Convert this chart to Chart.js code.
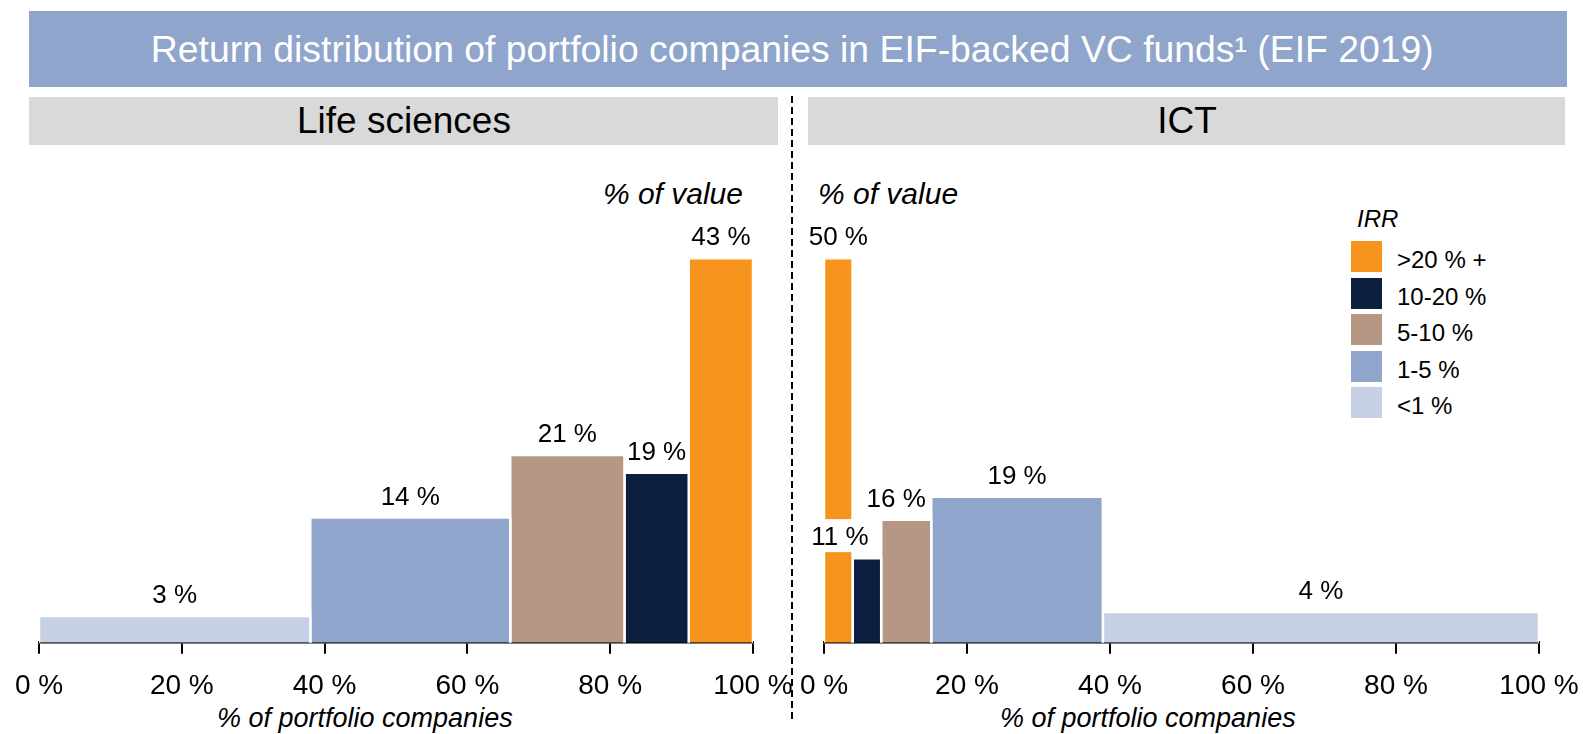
<!DOCTYPE html>
<html>
<head>
<meta charset="utf-8">
<script src="https://cdn.jsdelivr.net/npm/chart.js@4"></script>
<style>
  html, body { margin:0; padding:0; background:#fff; }
  body { width:1583px; height:734px; position:relative; overflow:hidden; font-family:'Liberation Sans', Arial, sans-serif; }
  .abs { position:absolute; white-space:nowrap; }
  #titleBar { left:29px; top:11px; width:1538px; height:76px; background:#8FA5CB; }
  #titleText { top:12px; height:76px; line-height:76px; font-size:36px; color:#fff; transform-origin:center center; }
  .panelBar { top:97px; height:48px; background:#D9D9D9; }
  .panelText { top:97px; height:48px; line-height:48px; font-size:37px; color:#000; }
  .valTitle { top:179px; line-height:30px; font-size:30px; font-style:italic; color:#000; }
  .axTitle { top:705px; line-height:27px; font-size:27px; font-style:italic; color:#000; }
  #divider { left:791px; top:96px; width:1.5px; height:626px;
    background:repeating-linear-gradient(to bottom, #000 0 7px, transparent 7px 11px); }
  canvas { position:absolute; }
  #legend { left:1351px; top:241px; }
  .lgItem { position:absolute; left:0; height:31px; }
  .lgSw { position:absolute; left:0; top:0; width:31px; height:31px; }
  .lgTx { position:absolute; left:46px; top:0; line-height:31px; font-size:24px; color:#000; white-space:nowrap; padding-top:3px; }
  #irr { left:1357px; top:207px; line-height:24px; font-size:24px; font-style:italic; color:#000; }
</style>
</head>
<body>
<div id="titleBar" class="abs"></div>
<span id="titleText" class="abs">Return distribution of portfolio companies in EIF-backed VC funds¹ (EIF 2019)</span>
<div class="abs panelBar" style="left:29px;width:749px;"></div>
<div class="abs panelBar" style="left:808px;width:757px;"></div>
<span id="lsHead" class="abs panelText">Life sciences</span>
<span id="ictHead" class="abs panelText">ICT</span>
<div id="divider" class="abs"></div>
<span id="lsVal" class="abs valTitle">% of value</span>
<span id="ictVal" class="abs valTitle" style="left:818px;">% of value</span>
<span id="lsAx" class="abs axTitle" style="left:217px;">% of portfolio companies</span>
<span id="ictAx" class="abs axTitle" style="left:1000px;">% of portfolio companies</span>
<span id="irr" class="abs">IRR</span>
<div id="legend" class="abs"></div>
<canvas id="lsChart" width="800" height="584" style="left:0;top:150px;"></canvas>
<canvas id="ictChart" width="803" height="584" style="left:780px;top:150px;"></canvas>
<script>
// ---------- DATA ----------
const irrBands = ['>20 % +', '10-20 %', '5-10 %', '1-5 %', '<1 %'];
// Life sciences, left to right on the axis
const lsBands = ['<1 %', '1-5 %', '5-10 %', '10-20 %', '>20 % +'];
const lsCompanies = [38, 28, 16, 9, 9];      // % of portfolio companies (bar widths)
const lsValue = [3, 14, 21, 19, 43];         // % of value (bar heights)
// ICT, left to right on the axis
const ictBands = ['>20 % +', '10-20 %', '5-10 %', '1-5 %', '<1 %'];
const ictCompanies = [4, 4, 7, 24, 61];
const ictValue = [50, 11, 16, 19, 4];
const xTickValues = [0, 20, 40, 60, 80, 100];

// ---------- STYLE ----------
const bandColors = {
  '>20 % +': '#F7941D',
  '10-20 %': '#0C1F40',
  '5-10 %': '#B59783',
  '1-5 %': '#8FA5CB',
  '<1 %': '#C5D0E4'
};
const FONT = "'Liberation Sans', Arial, sans-serif";

// condensed tick font if available
const probe = document.createElement('canvas').getContext('2d');
probe.font = "40px 'Liberation Sans Narrow', monospace";
const wN = probe.measureText('100 % abc').width;
probe.font = '40px monospace';
const wM = probe.measureText('100 % abc').width;
const hasNarrow = Math.abs(wN - wM) > 1;
const tickFont = hasNarrow ? { family: "'Liberation Sans Narrow', 'Liberation Sans', Arial", size: 34 }
                           : { family: FONT, size: 28 };
const tickPad = hasNarrow ? 15 : 16;

function buildDatasets(bands, companies, values) {
  let x = 0;
  return bands.map((b, i) => {
    const x0 = x, x1 = x + companies[i];
    x = x1;
    return {
      label: b,
      data: [{x: x0, y: 0}, {x: x0, y: values[i]}, {x: x1, y: values[i]}, {x: x1, y: 0}],
      backgroundColor: bandColors[b],
      borderColor: '#ffffff',
      borderWidth: 2.5,
      pointRadius: 0,
      pointHoverRadius: 0,
      tension: 0,
      fill: 'origin',
      _mid: (x0 + x1) / 2,
      _val: values[i]
    };
  });
}

const valueLabels = {
  id: 'valueLabels',
  afterDatasetsDraw(chart, args, opts) {
    const ctx = chart.ctx, xs = chart.scales.x, ys = chart.scales.y;
    ctx.save();
    ctx.font = '26px ' + FONT;
    ctx.textAlign = 'center';
    ctx.textBaseline = 'alphabetic';
    chart.data.datasets.forEach((ds, i) => {
      const adj = (opts.adjust || {})[i] || {};
      const cx = xs.getPixelForValue(ds._mid) + (adj.dx || 0);
      const y = ys.getPixelForValue(ds._val) - 13;
      const txt = ds._val + ' %';
      if (adj.bg) {
        const w = ctx.measureText(txt).width;
        ctx.fillStyle = adj.bg;
        ctx.fillRect(cx - w / 2 - 4, y - 26, w + 8, 33);
      }
      ctx.fillStyle = '#000';
      ctx.fillText(txt, cx, y);
    });
    ctx.restore();
  }
};

function makeChart(id, bands, companies, values, pad, adjust) {
  const maxV = Math.max(...values);
  return new Chart(document.getElementById(id), {
    type: 'line',
    data: { datasets: buildDatasets(bands, companies, values) },
    options: {
      responsive: false,
      animation: false,
      events: [],
      layout: { padding: pad },
      plugins: { legend: { display: false }, tooltip: { enabled: false }, valueLabels: { adjust } },
      scales: {
        x: {
          type: 'linear', min: 0, max: 100, z: 1,
          afterBuildTicks: (s) => { s.ticks = xTickValues.map(v => ({value: v})); },
          afterFit: (s) => { s.height = 91.3; s.paddingLeft = 0; s.paddingRight = 0; },
          border: { display: true, color: '#000', width: 2.5 },
          grid: { drawOnChartArea: false, drawTicks: true, tickLength: 11, color: '#000', lineWidth: 2 },
          ticks: {
            autoSkip: false, maxRotation: 0, padding: tickPad, color: '#000',
            font: tickFont,
            callback: (v) => v + ' %'
          }
        },
        y: { display: false, min: 0, max: maxV }
      }
    },
    plugins: [valueLabels]
  });
}

makeChart('lsChart', lsBands, lsCompanies, lsValue, {left: 39, right: 47, top: 108.3, bottom: 0}, {});
makeChart('ictChart', ictBands, ictCompanies, ictValue, {left: 44, right: 44, top: 108.3, bottom: 0},
  {1: {dx: -27, bg: '#ffffff'}, 2: {dx: -10}});

// ---------- LEGEND ----------
const lg = document.getElementById('legend');
irrBands.forEach((b, i) => {
  const it = document.createElement('div');
  it.className = 'lgItem';
  it.style.top = (i * 36.5) + 'px';
  it.innerHTML = '<div class="lgSw" style="background:' + bandColors[b] + '"></div><div class="lgTx"></div>';
  it.querySelector('.lgTx').textContent = b;
  lg.appendChild(it);
});

// ---------- TEXT PLACEMENT ----------
function center(el, cx, targetW) {
  const w = el.getBoundingClientRect().width;
  if (targetW) el.style.transform = 'scaleX(' + (targetW / w) + ')';
  el.style.left = (cx - w / 2) + 'px';
}
center(document.getElementById('titleText'), 792, 1283);
center(document.getElementById('lsHead'), 404);
center(document.getElementById('ictHead'), 1187);
const lv = document.getElementById('lsVal');
lv.style.left = (743 - lv.getBoundingClientRect().width) + 'px';
</script>
</body>
</html>
